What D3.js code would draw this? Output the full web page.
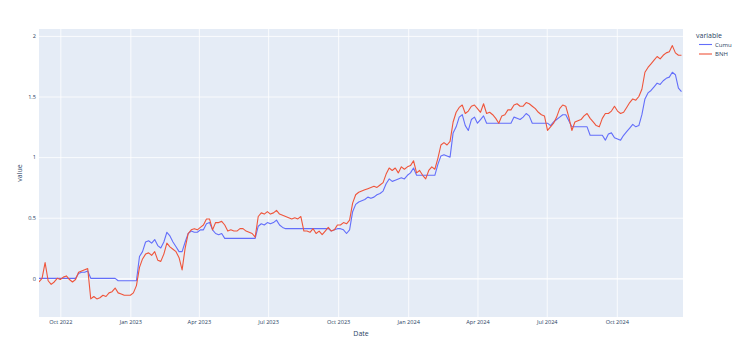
<!DOCTYPE html>
<html>
<head>
<meta charset="utf-8">
<script src="https://cdn.jsdelivr.net/npm/d3@7"></script>
<style>
  html, body { margin: 0; padding: 0; background: #fff; }
  svg { display: block; font-family: "Open Sans", verdana, arial, sans-serif; }
</style>
</head>
<body>
<svg id="chart" width="740" height="356"></svg>
<script>
// ---- data (sampled every 4 days from 2022-09-03) ----
const startDate = new Date(2022, 8, 3);
const stepDays = 4;
const seriesNames = ["Cumu", "BNH"];
const seriesColors = ["#636efa", "#EF553B"];
const yTicks = [0, 0.5, 1, 1.5, 2];
const yTickLabels = ["0", "0.5", "1", "1.5", "2"];
const xDomain = [new Date(2022, 8, 3), new Date(2024, 11, 27)];

const cumu = [
  0, 0, 0, 0, 0, 0, 0, 0, 0, 0,
  0, 0, 0, 0.04, 0.05, 0.05, 0.06, 0, 0, 0,
  0, 0, 0, 0, 0, 0, -0.02, -0.02, -0.02, -0.02,
  -0.02, -0.02, -0.02, 0.18, 0.22, 0.30, 0.31, 0.29, 0.32, 0.27,
  0.25, 0.30, 0.38, 0.35, 0.30, 0.26, 0.22, 0.22, 0.30, 0.37,
  0.39, 0.38, 0.38, 0.40, 0.40, 0.45, 0.46, 0.40, 0.37, 0.36,
  0.37, 0.33, 0.33, 0.33, 0.33, 0.33, 0.33, 0.33, 0.33, 0.33,
  0.33, 0.33, 0.43, 0.45, 0.44, 0.46, 0.45, 0.46, 0.48, 0.44,
  0.42, 0.41, 0.41, 0.41, 0.41, 0.41, 0.41, 0.41, 0.41, 0.41,
  0.41, 0.41, 0.41, 0.41, 0.41, 0.41, 0.39, 0.40, 0.41, 0.41,
  0.40, 0.37, 0.40, 0.55, 0.61, 0.63, 0.64, 0.65, 0.67, 0.66,
  0.67, 0.69, 0.70, 0.72, 0.78, 0.82, 0.80, 0.81, 0.82, 0.83,
  0.82, 0.85, 0.87, 0.91, 0.85, 0.85, 0.85, 0.85, 0.85, 0.85,
  0.85, 0.94, 1.01, 1.02, 1.01, 1.00, 1.20, 1.25, 1.33, 1.35,
  1.26, 1.22, 1.31, 1.33, 1.28, 1.31, 1.34, 1.28, 1.28, 1.28,
  1.28, 1.28, 1.28, 1.28, 1.28, 1.28, 1.33, 1.32, 1.31, 1.33,
  1.36, 1.34, 1.28, 1.28, 1.28, 1.28, 1.28, 1.28, 1.26, 1.29,
  1.31, 1.33, 1.35, 1.35, 1.30, 1.25, 1.25, 1.25, 1.25, 1.25,
  1.25, 1.18, 1.18, 1.18, 1.18, 1.18, 1.14, 1.19, 1.20, 1.16,
  1.15, 1.14, 1.18, 1.21, 1.24, 1.27, 1.25, 1.26, 1.35, 1.48,
  1.53, 1.55, 1.58, 1.61, 1.60, 1.63, 1.65, 1.66, 1.70, 1.68,
  1.57, 1.54
];

const bnh = [
  -0.03, 0.00, 0.13, -0.02, -0.05, -0.03, 0.00, -0.01, 0.01, 0.02,
  -0.01, -0.03, -0.01, 0.05, 0.06, 0.07, 0.08, -0.17, -0.15, -0.17,
  -0.16, -0.14, -0.15, -0.12, -0.11, -0.08, -0.12, -0.13, -0.14, -0.14,
  -0.14, -0.12, -0.06, 0.09, 0.16, 0.20, 0.21, 0.19, 0.22, 0.15,
  0.14, 0.20, 0.29, 0.26, 0.24, 0.22, 0.17, 0.07, 0.25, 0.37,
  0.40, 0.41, 0.40, 0.42, 0.44, 0.49, 0.49, 0.40, 0.46, 0.46,
  0.47, 0.44, 0.39, 0.40, 0.39, 0.39, 0.41, 0.41, 0.39, 0.38,
  0.37, 0.34, 0.51, 0.54, 0.53, 0.55, 0.53, 0.54, 0.56, 0.53,
  0.52, 0.51, 0.50, 0.49, 0.50, 0.49, 0.51, 0.39, 0.39, 0.38,
  0.41, 0.37, 0.39, 0.36, 0.39, 0.42, 0.39, 0.40, 0.44, 0.44,
  0.46, 0.45, 0.48, 0.62, 0.69, 0.71, 0.72, 0.73, 0.74, 0.75,
  0.76, 0.75, 0.77, 0.79, 0.86, 0.91, 0.89, 0.91, 0.87, 0.92,
  0.90, 0.92, 0.93, 0.97, 0.87, 0.89, 0.85, 0.82, 0.89, 0.92,
  0.90, 0.99, 1.10, 1.12, 1.10, 1.13, 1.29, 1.37, 1.41, 1.43,
  1.36, 1.38, 1.42, 1.43, 1.40, 1.37, 1.44, 1.36, 1.37, 1.35,
  1.32, 1.28, 1.34, 1.35, 1.39, 1.39, 1.43, 1.44, 1.42, 1.42,
  1.45, 1.44, 1.42, 1.40, 1.37, 1.35, 1.34, 1.22, 1.25, 1.28,
  1.33, 1.40, 1.43, 1.42, 1.33, 1.22, 1.29, 1.30, 1.31, 1.34,
  1.36, 1.32, 1.29, 1.26, 1.25, 1.32, 1.36, 1.36, 1.38, 1.42,
  1.38, 1.36, 1.37, 1.41, 1.45, 1.48, 1.47, 1.50, 1.56, 1.70,
  1.74, 1.77, 1.80, 1.83, 1.81, 1.84, 1.86, 1.87, 1.92, 1.86,
  1.84, 1.84
];

const dates = cumu.map((_, i) => d3.timeDay.offset(startDate, i * stepDays));
const seriesValues = [cumu, bnh];

// ---- layout ----
const svg = d3.select("#chart");
const plot = { left: 39, right: 683, top: 29, bottom: 317 };
const textColor = "#2a3f5f";

const x = d3.scaleTime().domain(xDomain).range([plot.left, plot.right]);
const y = d3.scaleLinear().domain([-0.319, 2.057]).range([plot.bottom, plot.top]);

svg.append("rect")
  .attr("x", plot.left).attr("y", plot.top)
  .attr("width", plot.right - plot.left).attr("height", plot.bottom - plot.top)
  .attr("fill", "#E5ECF6");

const xTicks = d3.timeMonth.every(3).range(xDomain[0], xDomain[1]);

// grid
const xAxisGrid = d3.axisBottom(x).tickValues(xTicks).tickSize(-(plot.bottom - plot.top)).tickFormat("");
svg.append("g").attr("transform", `translate(0,${plot.bottom})`).call(xAxisGrid)
  .call(g => g.select(".domain").remove())
  .call(g => g.selectAll("line").attr("stroke", "#fff").attr("stroke-width", 0.8));

const yAxisGrid = d3.axisLeft(y).tickValues(yTicks).tickSize(-(plot.right - plot.left)).tickFormat("");
svg.append("g").attr("transform", `translate(${plot.left},0)`).call(yAxisGrid)
  .call(g => g.select(".domain").remove())
  .call(g => g.selectAll("line").attr("stroke", "#fff").attr("stroke-width", d => d === 0 ? 1.3 : 0.8));

// tick labels
const xAxis = d3.axisBottom(x).tickValues(xTicks).tickSize(0).tickPadding(3).tickFormat(d3.timeFormat("%b %Y"));
svg.append("g").attr("transform", `translate(0,${plot.bottom})`).call(xAxis)
  .call(g => g.select(".domain").remove())
  .call(g => g.selectAll("text").attr("fill", textColor).attr("font-size", 5.6)
    .attr("font-family", '"Open Sans", verdana, arial, sans-serif'));

const yAxis = d3.axisLeft(y).tickValues(yTicks).tickSize(0).tickPadding(3)
  .tickFormat((d, i) => yTickLabels[i]);
svg.append("g").attr("transform", `translate(${plot.left},0)`).call(yAxis)
  .call(g => g.select(".domain").remove())
  .call(g => g.selectAll("text").attr("fill", textColor).attr("font-size", 5.6)
    .attr("font-family", '"Open Sans", verdana, arial, sans-serif'));

// axis titles
svg.append("text").attr("x", (plot.left + plot.right) / 2).attr("y", 335.5)
  .attr("text-anchor", "middle").attr("fill", textColor).attr("font-size", 7).text("Date");
svg.append("text").attr("transform", `translate(21.5,${(plot.top + plot.bottom) / 2}) rotate(-90)`)
  .attr("text-anchor", "middle").attr("fill", textColor).attr("font-size", 7).text("value");

// lines
svg.append("clipPath").attr("id", "clip").append("rect")
  .attr("x", plot.left).attr("y", plot.top)
  .attr("width", plot.right - plot.left).attr("height", plot.bottom - plot.top);

const line = d3.line().x((d, i) => x(dates[i])).y(d => y(d));
const linesG = svg.append("g").attr("clip-path", "url(#clip)");
seriesValues.forEach((vals, k) => {
  linesG.append("path").datum(vals)
    .attr("fill", "none").attr("stroke", seriesColors[k])
    .attr("stroke-width", 1.1).attr("stroke-linejoin", "round")
    .attr("d", line);
});

// legend
const legend = svg.append("g");
legend.append("text").attr("x", 696).attr("y", 37.5).attr("fill", textColor)
  .attr("font-size", 7).text("variable");
seriesNames.forEach((name, k) => {
  const ly = 44.5 + k * 9.5;
  legend.append("line").attr("x1", 699).attr("x2", 712).attr("y1", ly).attr("y2", ly)
    .attr("stroke", seriesColors[k]).attr("stroke-width", 1.1);
  legend.append("text").attr("x", 715).attr("y", ly + 2).attr("fill", textColor)
    .attr("font-size", 6).text(name);
});
</script>
</body>
</html>
